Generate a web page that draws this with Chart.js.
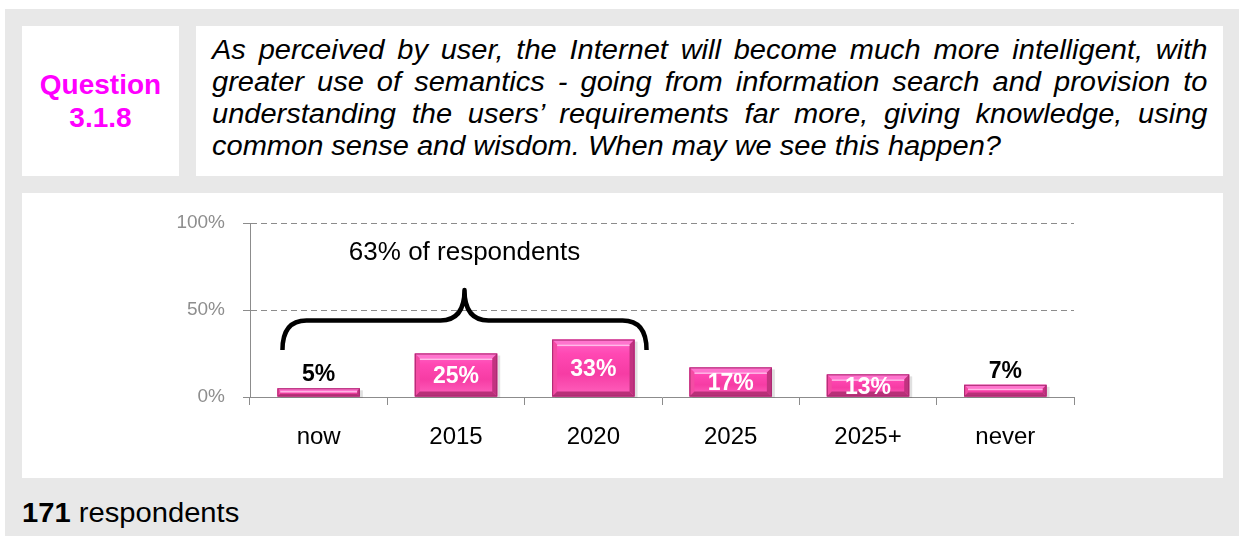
<!DOCTYPE html>
<html>
<head>
<meta charset="utf-8">
<script src="https://cdn.jsdelivr.net/npm/chart.js@4/dist/chart.umd.min.js"></script>
<style>
  html, body { margin: 0; padding: 0; background: #ffffff; }
  body { width: 1239px; height: 536px; position: relative; overflow: hidden;
         font-family: Arial, "Liberation Sans", sans-serif; }
  #frame { position: absolute; left: 5px; top: 9px; right: 0; bottom: 0; background: #e8e8e8; }
  .box { position: absolute; background: #ffffff; }
  #qbox { left: 22px; top: 26px; width: 157px; height: 150px; }
  #qlabel { position: absolute; left: 0; right: 0; top: 42px; text-align: center;
            color: #ff00ff; font-weight: bold; font-size: 28px; line-height: 33px; }
  #tbox { left: 196px; top: 26px; width: 1027px; height: 150px; }
  #qtext { position: absolute; left: 16px; top: 8px; width: 926px;
           transform: scaleX(1.075); transform-origin: 0 0;
           font-style: italic; font-size: 27px; line-height: 32px; color: #000; }
  #qtext .ln { text-align: justify; text-align-last: justify; white-space: nowrap; }
  #qtext .ln.last { text-align-last: left; }
  #cbox { left: 22px; top: 193px; width: 1201px; height: 285px; }
  #footer { position: absolute; left: 22px; top: 497px; font-size: 27px; line-height: 32px; color: #000;
            transform: scaleX(1.08); transform-origin: 0 0; white-space: nowrap; }
</style>
</head>
<body>
<div id="frame"></div>
<div class="box" id="qbox"><div id="qlabel">Question<br>3.1.8</div></div>
<div class="box" id="tbox">
  <div id="qtext">
    <div class="ln">As perceived by user, the Internet will become much more intelligent, with</div>
    <div class="ln">greater use of semantics - going from information search and provision to</div>
    <div class="ln">understanding the users’ requirements far more, giving knowledge, using</div>
    <div class="ln last">common sense and wisdom. When may we see this happen?</div>
  </div>
</div>
<div class="box" id="cbox"><canvas id="chart"></canvas></div>
<div id="footer"><b>171</b> respondents</div>

<script>
// Answer categories and share of respondents (%)
const categories = ['now', '2015', '2020', '2025', '2025+', 'never'];
const shares = [5, 25, 33, 17, 13, 7];
// Y axis ticks
const yTicks = [0, 50, 100];
// Answers grouped by the brace (first three categories)
const groupedCount = 3;

const FONT = 'Arial, "Liberation Sans", sans-serif';

function trap(ctx, pts, color) {
  ctx.beginPath();
  ctx.moveTo(pts[0][0], pts[0][1]);
  for (let i = 1; i < pts.length; i++) ctx.lineTo(pts[i][0], pts[i][1]);
  ctx.closePath();
  ctx.fillStyle = color;
  ctx.fill();
}

// Beveled "gel" look on each bar, plus value labels
const bevelBars = {
  id: 'bevelBars',
  beforeDatasetsDraw(chart) {
    const ctx = chart.ctx;
    const meta = chart.getDatasetMeta(0);
    ctx.save();
    meta.data.forEach(el => {
      const L = el.x - el.width / 2, T = el.y, h = el.base - el.y;
      ctx.fillStyle = 'rgba(0,0,0,0.12)';
      ctx.fillRect(L + 3, T + 2, el.width, h - 1);
    });
    ctx.restore();
  },
  afterDatasetsDraw(chart) {
    const ctx = chart.ctx;
    const meta = chart.getDatasetMeta(0);
    ctx.save();
    meta.data.forEach((el, i) => {
      const w = el.width, L = el.x - w / 2, R = el.x + w / 2, T = el.y, B = el.base;
      const h = B - T;
      const b = Math.min(5, h / 3);
      const g = ctx.createLinearGradient(0, T, 0, B);
      g.addColorStop(0, '#ff66c8');
      g.addColorStop(0.25, '#ff48b3');
      g.addColorStop(0.6, '#f63ca4');
      g.addColorStop(1, '#ff62be');
      ctx.fillStyle = g;
      ctx.fillRect(L, T, w, h);
      trap(ctx, [[L, T], [R, T], [R - b, T + b], [L + b, T + b]], '#ff74ce');
      trap(ctx, [[L, T], [L + b, T + b], [L + b, B - b], [L, B]], '#f44ca4');
      trap(ctx, [[R, T], [R, B], [R - b, B - b], [R - b, T + b]], '#c23380');
      trap(ctx, [[L, B], [R, B], [R - b, B - b], [L + b, B - b]], '#b83078');
      ctx.fillStyle = 'rgba(255,205,240,0.85)';
      ctx.fillRect(L + b, T + b, w - 2 * b, 1.5);
      ctx.strokeStyle = '#a8296f';
      ctx.lineWidth = 1;
      ctx.strokeRect(L + 0.5, T + 0.5, w - 1, h - 1);

      // value label
      const v = shares[i];
      ctx.font = 'bold 23px ' + FONT;
      ctx.textAlign = 'center';
      if (v < 10) {
        ctx.fillStyle = '#000000';
        ctx.textBaseline = 'alphabetic';
        ctx.fillText(v + '%', el.x, T - 7);
      } else {
        ctx.fillStyle = '#ffffff';
        ctx.textBaseline = 'middle';
        ctx.fillText(v + '%', el.x, (T + B) / 2 + 2);
      }
    });
    ctx.restore();
  }
};

// Curly brace over the first group of answers with its total
const groupBrace = {
  id: 'groupBrace',
  afterDraw(chart) {
    const ctx = chart.ctx;
    const ys = chart.scales.y;
    const meta = chart.getDatasetMeta(0);
    const first = meta.data[0], last = meta.data[groupedCount - 1];
    const Lx = first.x - first.width / 2 + 5;
    const Rx = last.x + last.width / 2 + 12;
    const Px = (Lx + Rx) / 2;
    const yB = ys.getPixelForValue(27);
    const yH = ys.getPixelForValue(44);
    const yT = ys.getPixelForValue(61.5);
    const r = 24;
    ctx.save();
    ctx.strokeStyle = '#000000';
    ctx.lineWidth = 4.5;
    ctx.lineCap = 'butt';
    ctx.lineJoin = 'round';
    ctx.beginPath();
    ctx.moveTo(Lx, yB);
    ctx.quadraticCurveTo(Lx, yH, Lx + r, yH);
    ctx.lineTo(Px - r, yH);
    ctx.quadraticCurveTo(Px, yH, Px, yT);
    ctx.quadraticCurveTo(Px, yH, Px + r, yH);
    ctx.lineTo(Rx - r, yH);
    ctx.quadraticCurveTo(Rx, yH, Rx, yB);
    ctx.stroke();

    const total = shares.slice(0, groupedCount).reduce((a, c) => a + c, 0);
    ctx.font = '26px ' + FONT;
    ctx.fillStyle = '#000000';
    ctx.textAlign = 'center';
    ctx.textBaseline = 'alphabetic';
    ctx.fillText(total + '% of respondents', Px, ys.getPixelForValue(78.5));
    ctx.restore();
  }
};

new Chart(document.getElementById('chart'), {
  type: 'bar',
  data: {
    labels: categories,
    datasets: [{
      data: shares,
      backgroundColor: '#f63ca4',
      borderWidth: 0,
      barPercentage: 0.6,
      categoryPercentage: 1.0
    }]
  },
  options: {
    responsive: true,
    maintainAspectRatio: false,
    devicePixelRatio: 1,
    animation: false,
    events: [],
    layout: { padding: { left: 0, top: 30, right: 149, bottom: 0 } },
    plugins: { legend: { display: false }, tooltip: { enabled: false } },
    scales: {
      x: {
        grid: { display: true, offset: true, drawOnChartArea: false, drawTicks: true,
                tickLength: 8, color: '#8c8c8c', tickColor: '#8c8c8c' },
        border: { display: true, color: '#8c8c8c', width: 1 },
        ticks: { color: '#000000', font: { family: FONT, size: 24 }, padding: 18 },
        afterFit(s) { s.height = 81; }
      },
      y: {
        min: 0, max: 100,
        afterBuildTicks(s) { s.ticks = yTicks.map(v => ({ value: v })); },
        grid: {
          color: c => (c.tick && c.tick.value === 0) ? 'rgba(0,0,0,0)' : '#8c8c8c',
          tickColor: '#8c8c8c', tickLength: 7, tickBorderDash: [], lineWidth: 1
        },
        border: { display: true, color: '#8c8c8c', width: 1, dash: [6, 4] },
        ticks: { color: '#8e8e8e', font: { family: FONT, size: 19 }, padding: 18,
                 callback: v => v + '%' },
        afterFit(s) { s.width = 228; }
      }
    }
  },
  plugins: [bevelBars, groupBrace]
});
</script>
</body>
</html>
